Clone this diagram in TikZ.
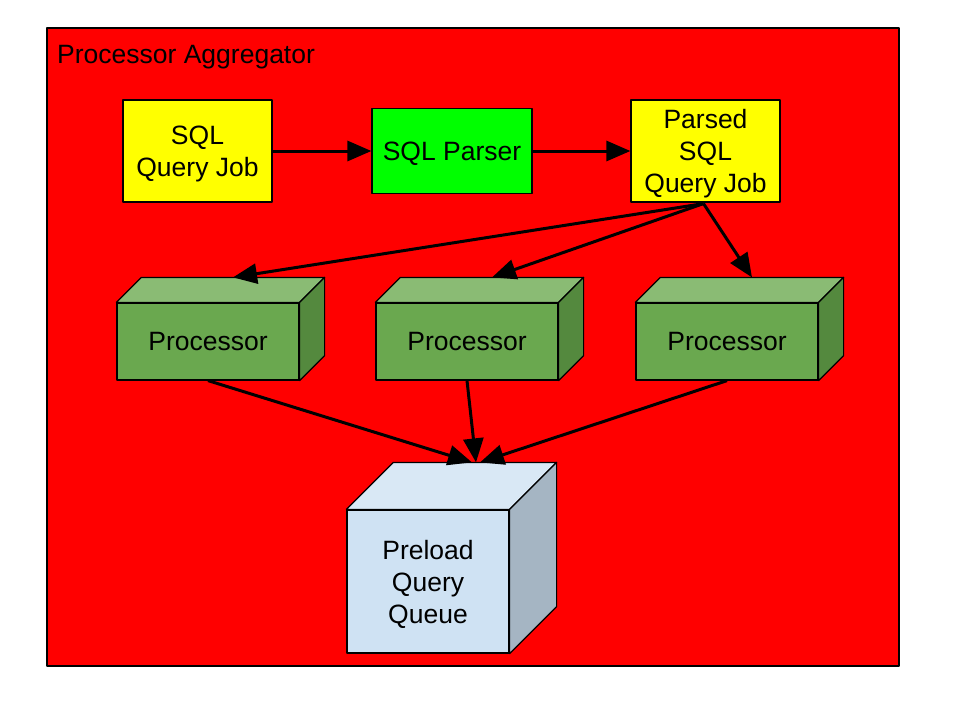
\documentclass[tikz,border=0pt]{standalone}
\usepackage{fontspec}
\setmainfont{Liberation Sans}
\usetikzlibrary{arrows.meta,calc}
\definecolor{ColFrame}{RGB}{255,0,0}
\definecolor{ColJob}{RGB}{255,255,0}
\definecolor{ColParser}{RGB}{0,255,0}
\definecolor{ColProcFront}{RGB}{106,168,79}
\definecolor{ColProcTop}{RGB}{138,187,116}
\definecolor{ColProcSide}{RGB}{84,137,62}
\definecolor{ColQueueFront}{RGB}{207,226,243}
\definecolor{ColQueueTop}{RGB}{217,232,245}
\definecolor{ColQueueSide}{RGB}{165,181,195}

\begin{document}
\begin{tikzpicture}[
  x=1pt, y=-1pt,
  >={Triangle[length=24pt,width=20pt]},
  line join=round,
  every node/.style={font=\fontsize{26.5}{32}\selectfont, align=center},
  box/.style={draw=black, line width=1.2pt, inner sep=0pt, text depth=0pt},
  face/.style={draw=black, line width=1.2pt},
  flow/.style={->, line width=3pt}
]
  \useasboundingbox (0,0) rectangle (960,720);

  % Aggregator frame
  \draw[fill=ColFrame, line width=1.2pt] (47,28) rectangle (899,666);
  \node[anchor=base west, inner sep=0pt] (title) at (57,63) {Processor Aggregator};

  % Job pipeline
  \node[box, fill=ColJob, minimum width=149pt, minimum height=102pt]
    (job) at (197.5,151) {SQL\\Query Job};
  \node[box, fill=ColParser, minimum width=160pt, minimum height=85pt]
    (parser) at (452,151) {SQL Parser};
  \node[box, fill=ColJob, minimum width=149pt, minimum height=102pt]
    (parsed) at (705.5,151) {Parsed\\SQL\\Query Job};

  % Processors (front face as node, top and side faces added)
  \foreach \i/\px in {1/208, 2/467, 3/727}{
    \node[box, fill=ColProcFront, minimum width=182pt, minimum height=77pt]
      (p\i) at (\px,341.5) {Processor};
    \draw[face, fill=ColProcTop] (p\i.north west) -- ($(p\i.north west)+(25,-25)$)
      -- ($(p\i.north east)+(25,-25)$) -- (p\i.north east) -- cycle;
    \draw[face, fill=ColProcSide] (p\i.north east) -- ($(p\i.north east)+(25,-25)$)
      -- ($(p\i.south east)+(25,-25)$) -- (p\i.south east) -- cycle;
    \coordinate (p\i top) at ($(p\i.north)+(25,-25)$);
  }

  % Queue cube
  \node[box, fill=ColQueueFront, minimum width=162pt, minimum height=143pt]
    (queue) at (428,581.5) {Preload\\Query\\Queue};
  \draw[face, fill=ColQueueTop] (queue.north west) -- ($(queue.north west)+(47,-47)$)
    -- ($(queue.north east)+(47,-47)$) -- (queue.north east) -- cycle;
  \draw[face, fill=ColQueueSide] (queue.north east) -- ($(queue.north east)+(47,-47)$)
    -- ($(queue.south east)+(47,-47)$) -- (queue.south east) -- cycle;
  \coordinate (qtop) at ($(queue.north)+(47,-47)$);

  % Connectors
  \draw[flow] (job.east) -- (parser.west);
  \draw[flow] (parser.east) -- (parsed.west);
  \foreach \i in {1,2,3}{
    \draw[flow] ($(parsed.south)+(-2,1)$) -- (p\i top);
  }
  \draw[flow] (p1.south) -- ($(qtop)+(-3,0)$);
  \draw[flow] (p2.south) -- ($(qtop)+(1,0)$);
  \draw[flow] (p3.south) -- ($(qtop)+(5,0)$);
\end{tikzpicture}
\end{document}
